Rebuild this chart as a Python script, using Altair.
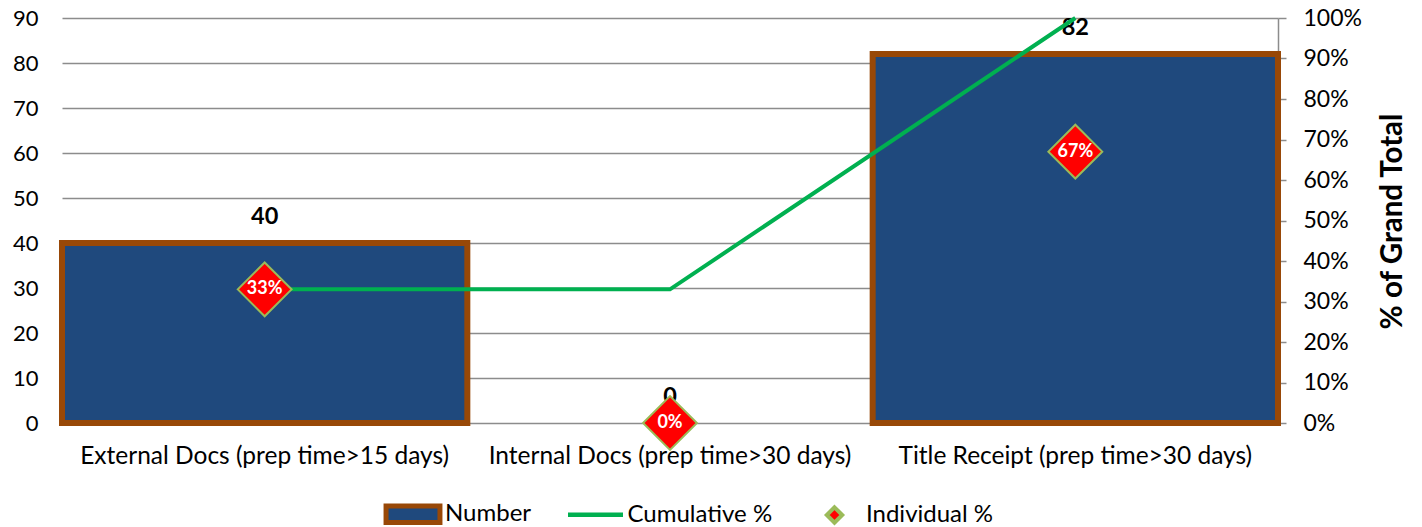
import altair as alt
import pandas as pd

categories = ["External Docs (prep time>15 days)", "Internal Docs (prep time>30 days)", "Title Receipt (prep time>30 days)"]
number = [40, 0, 82]
cumulative_pct = [0.33, 0.33, 1.0]
individual_pct = [0.33, 0.0, 0.67]
series_names = ["Number", "Cumulative %", "Individual %"]
left_ticks = [0, 10, 20, 30, 40, 50, 60, 70, 80, 90]
right_ticks = [0, 0.1, 0.2, 0.3, 0.4, 0.5, 0.6, 0.7, 0.8, 0.9, 1.0]

df = pd.DataFrame({
    "Category": categories,
    "Number": number,
    "Cumulative": cumulative_pct,
    "Individual": individual_pct,
})
legend_df = pd.DataFrame({"series": series_names})

FONT = "Lato"
W, H = 1216, 405

x_enc = alt.X("Category:N", sort=categories,
              scale=alt.Scale(paddingInner=0, paddingOuter=0),
              axis=alt.Axis(title=None, labelAngle=0, labelFontSize=24.5, labelFont=FONT,
                            labelColor="black", ticks=False, domain=False, labelPadding=21,
                            labelLimit=0, labelOverlap=False, grid=False))

left_scale = alt.Scale(domain=[0, 90], nice=False, zero=True)
right_scale = alt.Scale(domain=[0, 1], nice=False, zero=True)

bars = alt.Chart(df).mark_bar(fill="#1F497D", stroke="#984807", strokeWidth=6, strokeJoin="miter").encode(
    x=x_enc,
    y=alt.Y("Number:Q", scale=left_scale,
            axis=alt.Axis(title=None, values=left_ticks, labelFontSize=22, labelFont=FONT,
                          labelColor="black", ticks=False, domain=False, labelPadding=24,
                          grid=True, gridColor="#8C8C8C", gridWidth=1.5)),
    strokeOpacity=alt.condition("datum.Number > 0", alt.value(1), alt.value(0)),
)

bar_text = alt.Chart(df).mark_text(dy=-26, fontWeight="bold", fontSize=23.5, font=FONT,
                                   color="black", baseline="middle").encode(
    x=x_enc,
    y=alt.Y("Number:Q", scale=left_scale, axis=None),
    text=alt.Text("Number:Q"),
)

line = alt.Chart(df).mark_line(color="#00B050", strokeWidth=4).encode(
    x=x_enc,
    y=alt.Y("Cumulative:Q", scale=right_scale,
            axis=alt.Axis(orient="right", values=right_ticks, format=".0%", labelFontSize=23,
                          labelFont=FONT, labelColor="black", tickColor="#8C8C8C", tickSize=8,
                          tickWidth=1.5, domainColor="#8C8C8C", domainWidth=1.5, labelPadding=17,
                          grid=False, title="% of Grand Total", titleFont=FONT, titleFontSize=29.5,
                          titleFontWeight="bold", titleColor="black", titleAngle=270,
                          titleX=114, titleY=203, titleAlign="center", titleBaseline="middle")),
)

points = alt.Chart(df).mark_point(shape="diamond", filled=True, fill="#FF0000", stroke="#9BBB59",
                                  strokeWidth=2, size=2900, opacity=1).encode(
    x=x_enc,
    y=alt.Y("Individual:Q", scale=right_scale, axis=None),
)

point_text = alt.Chart(df).mark_text(fontWeight="bold", fontSize=18, font=FONT, color="white",
                                     baseline="middle").encode(
    x=x_enc,
    y=alt.Y("Individual:Q", scale=right_scale, axis=None),
    text=alt.Text("Individual:Q", format=".0%"),
)

# every legend symbol path spans the same [-1,1] box so that entries line up
legend_shapes = [
    "M-1,-1M1,1M-0.98,-0.3H0.98V0.3H-0.98Z",
    "M-1,-1M1,1M-1,0H1",
    "M-1,-1M1,1M0,-0.28L0.28,0L0,0.28L-0.28,0Z",
]

legend_layer = alt.Chart(legend_df).transform_filter("false").mark_point(filled=True, opacity=1).encode(
    fill=alt.Fill("series:N", scale=alt.Scale(domain=series_names,
                                              range=["#1F497D", "transparent", "#FF0000"]),
                  legend=alt.Legend(title=None, orient="none", legendX=321, legendY=466,
                                    direction="horizontal", symbolSize=3025, labelFontSize=24,
                                    labelFont=FONT, labelColor="black", labelOffset=2,
                                    columnPadding=26.5, padding=0, symbolOpacity=1)),
    stroke=alt.Stroke("series:N", scale=alt.Scale(domain=series_names,
                                                  range=["#984807", "#00B050", "#9BBB59"])),
    shape=alt.Shape("series:N", scale=alt.Scale(domain=series_names, range=legend_shapes)),
    strokeWidth=alt.StrokeWidth("series:N", scale=alt.Scale(domain=series_names, range=[5, 4, 2])),
)

chart = alt.layer(bars, bar_text, line, points, point_text, legend_layer).resolve_scale(
    y="independent"
).properties(
    width=W, height=H,
    autosize=alt.AutoSizeParams(type="none"),
    padding={"left": 54, "top": 10, "right": 136, "bottom": 104},
).configure_view(stroke=None)

chart.save("out.html", embed_options={"renderer": "svg", "actions": False})
